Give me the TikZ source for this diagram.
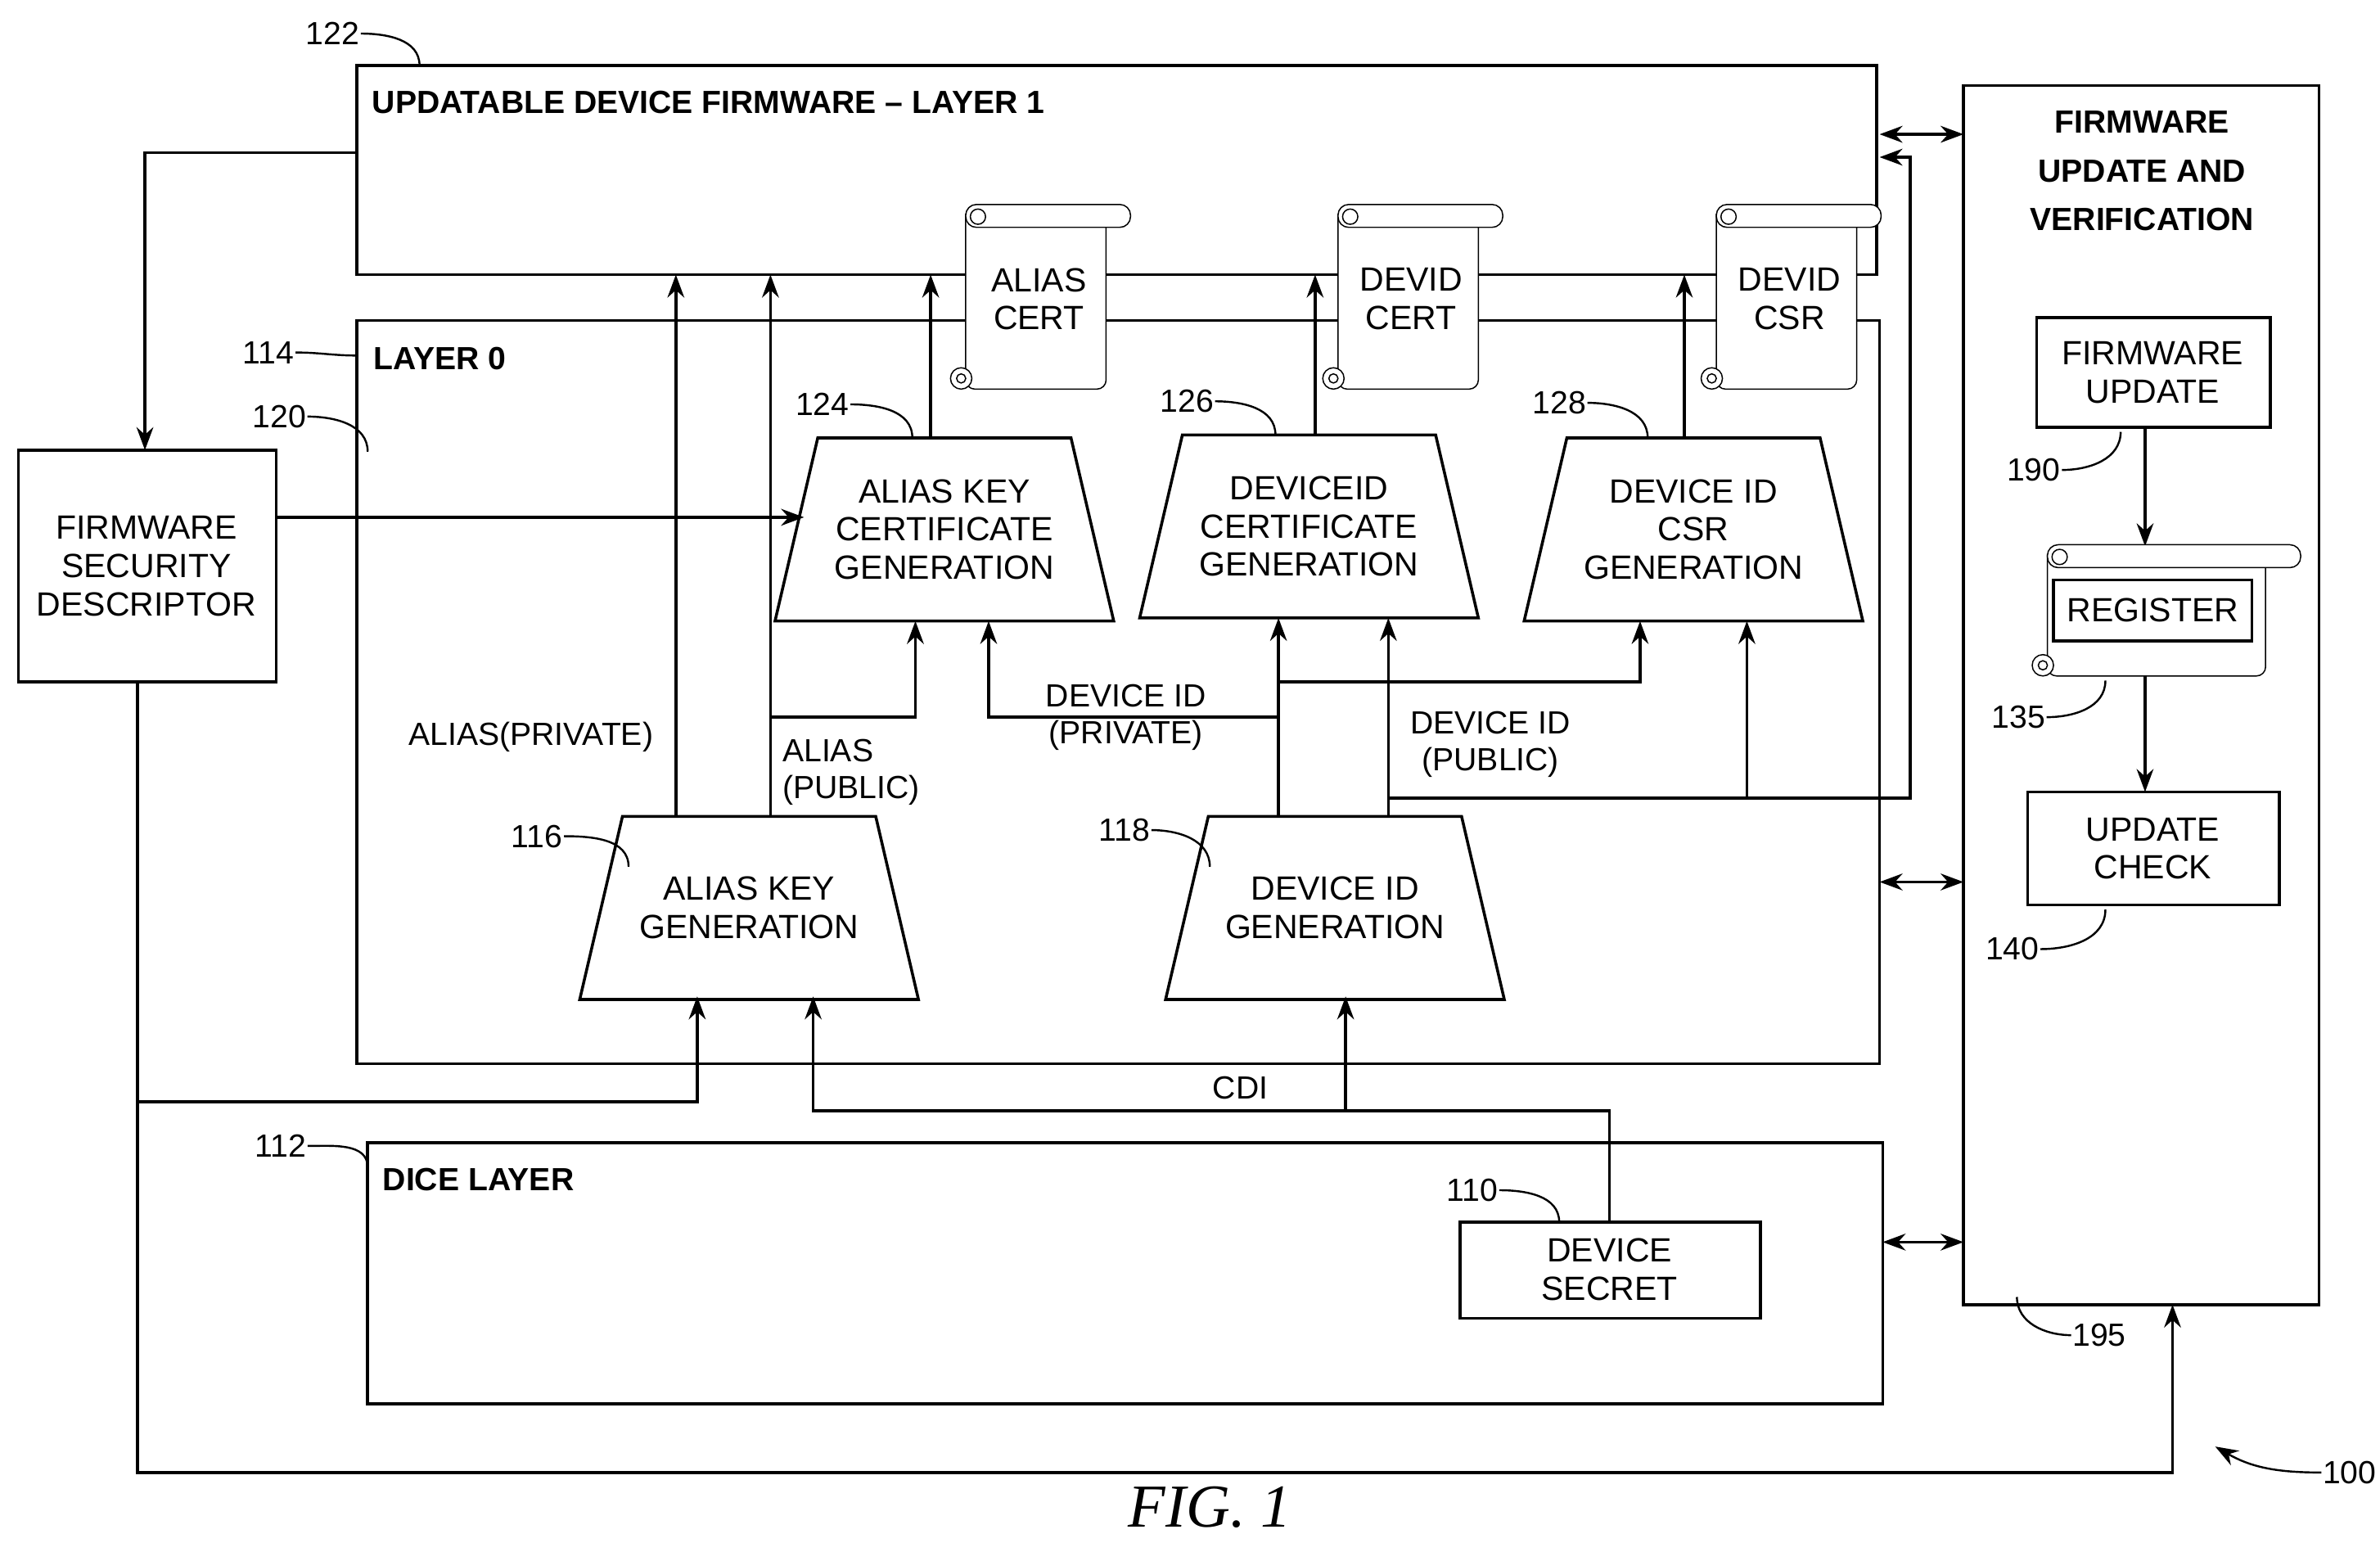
\documentclass[tikz,border=0pt]{standalone}
\usepackage{fontspec}
\setmainfont{Liberation Sans}
\newfontfamily\figfont{Liberation Serif}
\usetikzlibrary{arrows.meta}
\begin{document}
\begin{tikzpicture}[x=1pt,y=-1pt,line width=1.9pt,
  >={Stealth[length=15pt,width=11pt]},
  txt/.style={font=\fontsize{22}{25}\selectfont,align=center,inner sep=0},
  ttl/.style={font=\fontsize{21}{24}\selectfont\bfseries,anchor=west,inner sep=0},
  lbl/.style={font=\fontsize{21}{24}\selectfont,inner sep=0},
  lead/.style={line width=1.3pt},
  thin/.style={line width=0.8pt}]
\useasboundingbox (0,0) rectangle (1560,1011);
\newcommand{\trap}[4]{% name, cx, ytop, text
  \draw[fill=white] (#2-83,#3) -- (#2+83,#3) -- (#2+111,#3+120) -- (#2-111,#3+120) -- cycle;
  \node[txt] (#1) at (#2,#3+60) {#4};}
\newcommand{\scroll}[4]{% name x0 y0 text
  \draw[thin,fill=white,rounded corners=6] (#2,#3+6) -- (#2,#3+121) -- (#2+92,#3+121) -- (#2+92,#3+6);
  \draw[thin,fill=white,rounded corners=7] (#2,#3) rectangle (#2+108,#3+15);
  \draw[thin] (#2+8,#3+8) circle (5);
  \draw[thin,fill=white] (#2-3,#3+114) circle (7);
  \draw[thin] (#2-3,#3+114) circle (3);
  \node[txt] (#1) at (#2+48,#3+62) {#4};}
% Layer 1
\draw (234,43) rectangle (1230,180);
\node[ttl] (l1t) at (243,67) {UPDATABLE DEVICE FIRMWARE – LAYER 1};
\node[lbl] (n122) at (218,22) {122};
\draw[lead] (n122.east) to[out=0,in=90] (275,43);
% Layer 0
\draw (234,210) rectangle (1232,697);
\node[ttl] (l0t) at (244,235) {LAYER 0};
\node[lbl] (n114) at (176,231) {114};
\draw[lead] (n114.east) to[out=0,in=180] (234,233);
\node[lbl] (n120) at (183,273) {120};
\draw[lead] (n120.east) to[out=0,in=90] (241,296);
% FSD
\draw (12,295) rectangle (181,447);
\node[txt] (fsd) at (96,371) {FIRMWARE\\SECURITY\\DESCRIPTOR};
\draw[->] (234,100) -- (95,100) -- (95,295);
% trapezoids
\trap{t124}{619}{287}{ALIAS KEY\\CERTIFICATE\\GENERATION}
\trap{t126}{858}{285}{DEVICEID\\CERTIFICATE\\GENERATION}
\trap{t128}{1110}{287}{DEVICE ID\\CSR\\GENERATION}
\trap{t116}{491}{535}{ALIAS KEY\\GENERATION}
\trap{t118}{875}{535}{DEVICE ID\\GENERATION}
\node[lbl] (n124) at (539,265) {124};
\draw[lead] (n124.east) to[out=0,in=90] (598,287);
\node[lbl] (n126) at (778,263) {126};
\draw[lead] (n126.east) to[out=0,in=90] (836,285);
\node[lbl] (n128) at (1022,264) {128};
\draw[lead] (n128.east) to[out=0,in=90] (1080,287);
\node[lbl] (n116) at (352,548) {116};
\draw[lead] (n116.east) to[out=0,in=90] (412,568);
\node[lbl] (n118) at (737,544) {118};
\draw[lead] (n118.east) to[out=0,in=90] (793,568);
\draw[->] (181,339) -- (527,339);
% up arrows to layer 1
\draw[->] (443,535) -- (443,180);
\draw[->] (505,535) -- (505,180);
\draw[->] (505,470) -- (600,470) -- (600,407);
\draw[->] (610,287) -- (610,180);
\draw[->] (862,285) -- (862,180);
\draw[->] (1104,287) -- (1104,180);
% scrolls
\scroll{sc1}{633}{134}{ALIAS\\CERT}
\scroll{sc2}{877}{134}{DEVID\\CERT}
\scroll{sc3}{1125}{134}{DEVID\\CSR}
% device id private
\draw[->] (838,535) -- (838,405);
\draw[->] (838,470) -- (648,470) -- (648,407);
\draw[->] (838,447) -- (1075,447) -- (1075,407);
% device id public
\draw[->] (910,535) -- (910,405);
\draw[->] (910,523) -- (1252,523) -- (1252,103) -- (1232,103);
\draw[->] (1145,523) -- (1145,407);
% labels
\node[lbl] (lap) at (348,483) {ALIAS(PRIVATE)};
\node[lbl,align=left,anchor=west] (lapu) at (512,506) {ALIAS\\(PUBLIC)};
\node[lbl,align=center] (ldp) at (738,470) {DEVICE ID\\(PRIVATE)};
\node[lbl,align=center] (ldpu) at (977,488) {DEVICE ID\\(PUBLIC)};
% DICE
\draw (241,749) rectangle (1234,920);
\node[ttl] (dt) at (250,773) {DICE LAYER};
\node[lbl] (n112) at (184,751) {112};
\draw[lead] (n112.east) to[out=0,in=90] (241,765);
\draw (957,801) rectangle (1154,864);
\node[txt] (ds) at (1055,832) {DEVICE\\SECRET};
\node[lbl] (n110) at (965,780) {110};
\draw[lead] (n110.east) to[out=0,in=90] (1022,801);
\draw[->] (1055,801) -- (1055,728) -- (533,728) -- (533,653);
\draw[->] (882,728) -- (882,653);
\node[lbl] (cdi) at (813,713) {CDI};
\draw[->] (90,447) -- (90,722) -- (457,722) -- (457,653);
\draw[->] (90,722) -- (90,965) -- (1424,965) -- (1424,855);
% right box
\draw (1287,56) rectangle (1520,855);
\node[txt,font=\fontsize{21}{32}\selectfont\bfseries] (rt) at (1404,112) {FIRMWARE\\UPDATE AND\\VERIFICATION};
\draw[<->] (1232,88) -- (1287,88);
\draw[<->] (1232,578) -- (1287,578);
\draw[<->] (1234,814) -- (1287,814);
\draw (1335,208) rectangle (1488,280);
\node[txt] (fu) at (1411,244) {FIRMWARE\\UPDATE};
\draw[->] (1406,280) -- (1406,358);
\draw[thin,fill=white,rounded corners=6] (1342,363) -- (1342,443) -- (1485,443) -- (1485,363);
\draw[thin,fill=white,rounded corners=7] (1342,357) rectangle (1508,372);
\draw[thin] (1350,365) circle (5);
\draw[thin,fill=white] (1339,436) circle (7);
\draw[thin] (1339,436) circle (3);
\draw (1346,380) rectangle (1476,420);
\node[txt] (reg) at (1411,400) {REGISTER};
\draw[->] (1406,443) -- (1406,519);
\draw (1329,519) rectangle (1494,593);
\node[txt] (uc) at (1411,556) {UPDATE\\CHECK};
\node[lbl] (n190) at (1333,308) {190};
\draw[lead] (n190.east) to[out=0,in=-90] (1390,283);
\node[lbl] (n135) at (1323,470) {135};
\draw[lead] (n135.east) to[out=0,in=-90] (1380,446);
\node[lbl] (n140) at (1319,622) {140};
\draw[lead] (n140.east) to[out=0,in=-90] (1380,596);
\node[lbl] (n195) at (1376,875) {195};
\draw[lead] (n195.west) to[out=180,in=-90] (1322,850);
\node[lbl] (n100) at (1540,965) {100};
\draw[lead,->] (n100.west) to[out=180,in=-30] (1452,948);
\node[font=\fontsize{40}{44}\selectfont\figfont\itshape] (fig) at (793,988) {FIG. 1};
\end{tikzpicture}
\end{document}
